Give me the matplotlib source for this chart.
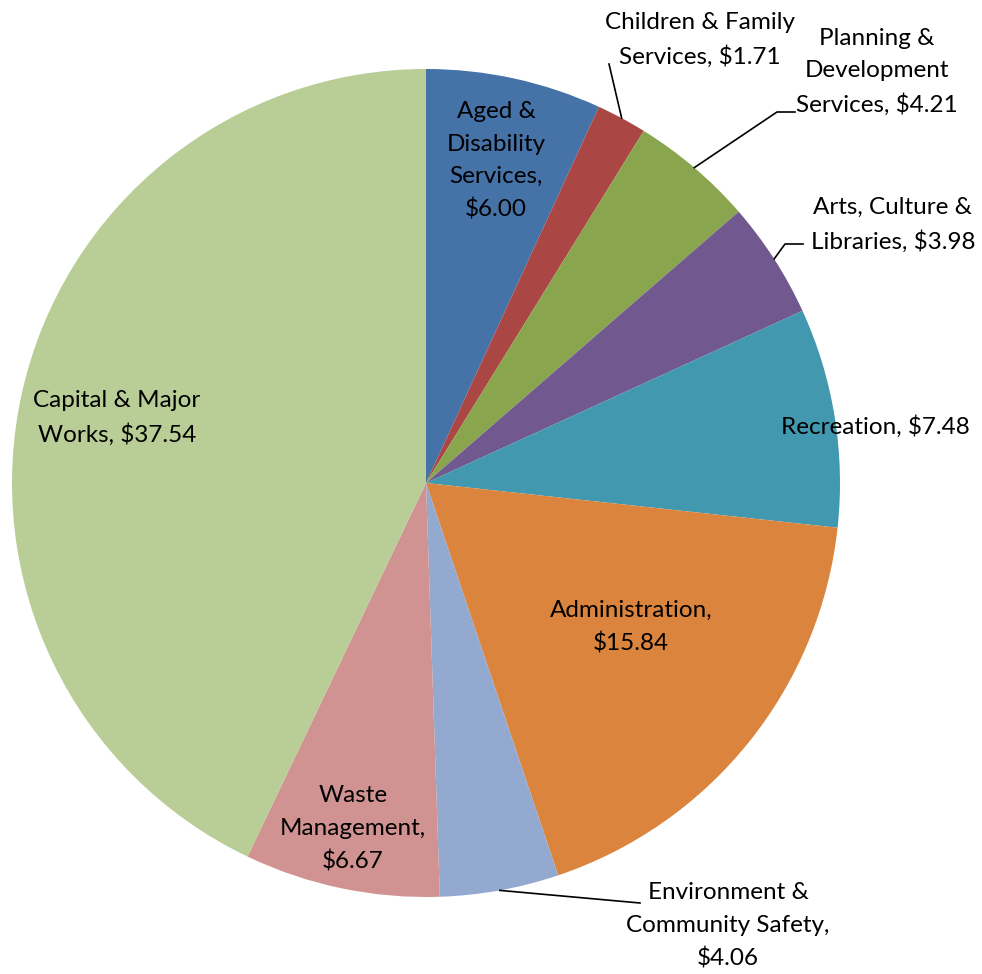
import numpy as np
import matplotlib
matplotlib.use('Agg')
import matplotlib.pyplot as plt

plt.rcParams['font.family'] = ['Lato', 'DejaVu Sans']

categorias = ['Aged &\nDisability\nServices', 'Children & Family\nServices',
              'Planning &\nDevelopment\nServices', 'Arts, Culture &\nLibraries',
              'Recreation', 'Administration', 'Environment &\nCommunity Safety',
              'Waste\nManagement', 'Capital & Major\nWorks']
valores = [6.00, 1.71, 4.21, 3.98, 7.48, 15.84, 4.06, 6.67, 37.54]
colores = ['#4572A7', '#AA4643', '#89A54E', '#71588F', '#4198AF',
           '#DB843D', '#93A9CF', '#D19392', '#B9CD96']

# separador entre nombre y valor en cada etiqueta
separador = [',\n', ', ', ', ', ', ', ', ', ',\n', ',\n', ',\n', ', ']

# posicion de cada etiqueta (pixeles, origen arriba a la izquierda) y donde termina su linea guia
pos_etiqueta = [(496, 161), (700, 40), (877, 72), (893, 225), (875, 427),
                (631, 627), (728, 926), (353, 829), (117, 418)]
guia = [None, (609, 64), (795, 112), (803, 244), None, None, (640, 903), None, None]

W, H = 982, 974
fig = plt.figure(figsize=(W / 100, H / 100), dpi=100)
ax = fig.add_axes([0, 0, 1, 1])

centro = (426, H - 483)
radio = 414
wedges, _ = ax.pie(valores, colors=colores, startangle=90, counterclock=False,
                   center=centro, radius=radio, frame=True,
                   wedgeprops=dict(linewidth=0))
ax.set_xlim(0, W)
ax.set_ylim(0, H)
ax.set_aspect('equal')
ax.axis('off')

for i, w in enumerate(wedges):
    texto = categorias[i] + separador[i] + '$%.2f' % valores[i]
    x, y = pos_etiqueta[i]
    ax.text(x, H - y, texto, ha='center', va='center', fontsize=17.5,
            linespacing=1.66, color='black')
    if guia[i] is not None:
        ang = np.deg2rad((w.theta1 + w.theta2) / 2)
        ex = centro[0] + radio * np.cos(ang)
        ey = centro[1] + radio * np.sin(ang)
        gx, gy = guia[i]
        if i in (1, 6):
            pts = [(ex, ey), (gx, H - gy)]
        else:
            pts = [(ex, ey), (gx - 18, H - gy), (gx, H - gy)]
        xs, ys = zip(*pts)
        ax.plot(xs, ys, color='black', linewidth=1.2)

fig.savefig('out.png', dpi=100)
